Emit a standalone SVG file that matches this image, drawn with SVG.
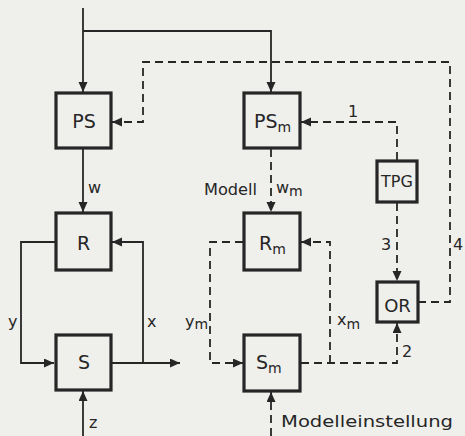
<svg xmlns="http://www.w3.org/2000/svg" width="465" height="436" viewBox="0 0 465 436">
<defs>
<style>
.box{fill:none;stroke:#262626;stroke-width:3.2}
.ln{fill:none;stroke:#262626;stroke-width:1.8}
.ds{fill:none;stroke:#262626;stroke-width:1.8;stroke-dasharray:8 5}
text{font-family:"DejaVu Sans","Liberation Sans",sans-serif;fill:#262626}
.bl{font-size:19px}
.lb{font-size:16px}
.sub{font-size:14px}
</style>
<marker id="ah" markerUnits="userSpaceOnUse" markerWidth="11" markerHeight="10" refX="10" refY="4.5" orient="auto">
<path d="M0,0 L10,4.5 L0,9 z" fill="#262626"/>
</marker>
</defs>
<rect width="465" height="436" fill="#efefec"/>
<g id="connectors">
<path class="ln" d="M83,8 V92" marker-end="url(#ah)"/>
<path class="ln" d="M83,31 H271 V92" marker-end="url(#ah)"/>
<path class="ln" d="M83,148 V212" marker-end="url(#ah)"/>
<path class="ln" d="M56,242 H21 V363 H54" marker-end="url(#ah)"/>
<path class="ln" d="M112,363 H180" marker-end="url(#ah)"/>
<path class="ln" d="M143,363 V242 H112" marker-end="url(#ah)"/>
<path class="ln" d="M83,436 V391" marker-end="url(#ah)"/>
<path class="ds" d="M418,302 H450 V62 H143 V122 H112" marker-end="url(#ah)"/>
<path class="ds" d="M397,160 V122 H301" marker-end="url(#ah)"/>
<path class="ds" d="M271,149 V212" marker-end="url(#ah)"/>
<path class="ds" d="M397,203 V281" marker-end="url(#ah)"/>
<path class="ds" d="M243,242 H210 V363 H243" marker-end="url(#ah)"/>
<path class="ds" d="M301,363 H397 V323" marker-end="url(#ah)"/>
<path class="ds" d="M330,363 V242 H301" marker-end="url(#ah)"/>
<path class="ds" d="M271,436 V392" marker-end="url(#ah)"/>
</g>
<g id="PS"><rect class="box" x="56" y="93" width="55" height="55"/><text class="bl" x="84" y="128" text-anchor="middle">PS</text></g>
<g id="R"><rect class="box" x="56" y="213" width="55" height="57"/><text class="bl" x="83.5" y="250" text-anchor="middle">R</text></g>
<g id="S"><rect class="box" x="56" y="335" width="55" height="55"/><text class="bl" x="84" y="369" text-anchor="middle">S</text></g>
<g id="PSm"><rect class="box" x="244" y="93" width="56" height="55"/><text class="bl" x="254" y="128">PS<tspan class="sub" dy="4">m</tspan></text></g>
<g id="Rm"><rect class="box" x="244" y="213" width="56" height="57"/><text class="bl" x="259" y="250">R<tspan class="sub" dy="4">m</tspan></text></g>
<g id="Sm"><rect class="box" x="244" y="335" width="56" height="56"/><text class="bl" x="256" y="369">S<tspan class="sub" dy="4">m</tspan></text></g>
<g id="TPG"><rect class="box" x="377" y="161" width="40" height="41"/><text x="397" y="187" text-anchor="middle" font-size="16">TPG</text></g>
<g id="OR"><rect class="box" x="377" y="282" width="41" height="40"/><text x="397.5" y="312" text-anchor="middle" font-size="18">OR</text></g>
<g id="labels">
<text class="lb" x="88" y="193">w</text>
<text class="lb" x="204" y="195" textLength="53" lengthAdjust="spacingAndGlyphs">Modell</text>
<text class="lb" x="276" y="193">w<tspan class="sub" dy="3">m</tspan></text>
<text class="lb" x="8" y="327">y</text>
<text class="lb" x="147" y="327">x</text>
<text class="lb" x="89" y="428">z</text>
<text class="lb" x="185" y="327">y<tspan class="sub" dy="2">m</tspan></text>
<text class="lb" x="337" y="325">x<tspan class="sub" dy="4">m</tspan></text>
<text class="lb" x="348" y="117">1</text>
<text class="lb" x="402" y="357">2</text>
<text class="lb" x="381" y="250">3</text>
<text class="lb" x="453" y="250">4</text>
<text class="lb" x="281" y="427" textLength="172" lengthAdjust="spacingAndGlyphs">Modelleinstellung</text>
</g>
</svg>
